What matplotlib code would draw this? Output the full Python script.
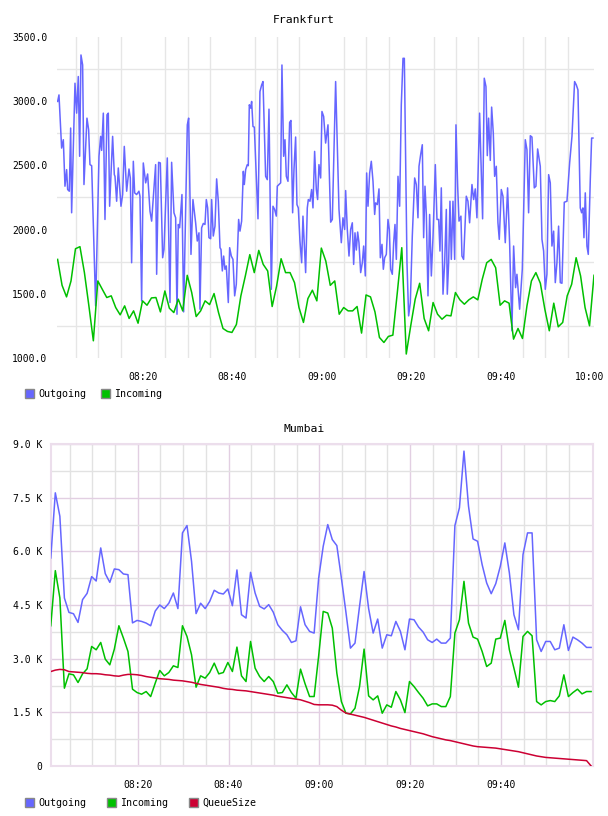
import matplotlib
matplotlib.use('Agg')
import matplotlib.pyplot as plt
import matplotlib.dates as mdates
from matplotlib.patches import Patch
from matplotlib.ticker import FixedLocator, FuncFormatter
import pandas as pd
import numpy as np

DAY = pd.Timestamp('2024-01-01 08:00:00')

# Frankfurt - outgoing (minutes after 08:00, value)
FRA_OUT_MIN = [0.91, 1.21, 1.80, 2.18, 2.55, 2.92, 3.15, 3.52, 3.82, 4.04, 4.79, 5.16, 5.53, 5.83, 6.13,
               6.50, 6.80, 7.47, 7.84, 8.14, 8.52, 9.41, 10.16, 10.53, 10.75, 11.13, 11.50, 11.95, 12.24,
               12.54, 13.21, 13.59, 13.74, 14.11, 14.48, 15.08, 15.45, 15.82, 16.35, 16.87, 17.17, 17.46,
               17.84, 18.14, 18.58, 19.10, 19.33, 19.70, 20.07, 20.60, 21.04, 21.57, 21.94, 22.83, 23.06,
               23.50, 23.88, 24.40, 24.70, 25.44, 26.04, 26.41, 26.93, 27.31, 27.61, 27.90, 28.20, 28.72,
               29.10, 29.92, 30.22, 30.74, 31.18, 31.78, 32.15, 32.53, 32.75, 33.12, 33.50, 33.87, 34.17,
               34.47, 34.76, 35.14, 35.36, 35.73, 36.11, 36.48, 36.85, 37.23, 37.45, 37.75, 38.05, 38.34,
               38.64, 39.09, 39.39, 39.76, 40.13, 40.51, 40.88, 41.40, 41.70, 42.07, 42.45, 42.67, 42.97,
               43.34, 43.56, 43.79, 44.09, 44.31, 44.61, 44.91, 45.20, 45.73, 46.17, 46.55, 46.85, 47.44,
               47.81, 48.19, 48.71, 49.08, 49.45, 49.83, 50.05, 50.42, 50.80, 51.09, 51.47, 51.77, 52.07,
               52.44, 52.81, 53.11, 53.48, 53.78, 54.15, 54.45, 54.75, 55.12, 55.50, 55.79, 56.39, 56.76,
               56.99, 57.36, 57.73, 58.03, 58.40, 58.78, 59.07, 59.37, 59.75, 60.04, 60.42, 60.86, 61.39,
               61.99, 62.36, 63.10, 63.85, 64.37, 64.74, 65.12, 65.34, 65.71, 66.09, 66.46, 66.83, 67.13,
               67.43, 67.73, 68.03, 68.32, 68.70, 69.07, 69.37, 69.74, 70.04, 70.34, 70.71, 71.08, 71.46,
               71.83, 72.05, 72.43, 72.80, 73.10, 73.47, 73.77, 74.07, 74.44, 74.81, 75.11, 75.41, 75.78,
               76.08, 76.38, 76.68, 77.05, 77.42, 77.79, 78.17, 78.47, 79.06, 79.43, 79.81, 80.25, 80.78,
               81.15, 81.52, 81.75, 82.12, 82.49, 82.79, 83.09, 83.39, 83.76, 84.13, 84.51, 84.88, 85.40,
               85.77, 86.15, 86.44, 86.74, 87.12, 87.49, 87.86, 88.08, 88.38, 88.68, 88.98, 89.35, 89.73,
               90.02, 90.40, 90.70, 91.13, 91.36, 91.73, 92.33, 92.70, 93.07, 93.60, 93.97, 94.34, 94.71,
               95.31, 95.98, 96.35, 96.73, 97.03, 97.32, 97.70, 98.00, 98.37, 98.67, 99.04, 99.41, 99.71,
               100.16, 100.53, 101.05, 101.57, 102.02, 102.54, 102.92, 103.36, 103.66, 104.26, 104.86,
               105.53, 105.90, 106.27, 106.65, 107.02, 107.54, 107.91, 108.29, 108.88, 109.26, 109.63,
               110.00, 110.37, 110.75, 111.12, 111.49, 111.87, 112.24, 112.61, 112.98, 113.36, 113.73,
               114.25, 114.85, 115.45, 115.97, 116.56, 116.94, 117.31, 117.83, 118.13, 118.43, 118.65,
               118.95, 119.32, 119.62, 120.07, 120.37, 120.66]
FRA_OUT = [2998, 3049, 2635, 2700, 2338, 2467, 2312, 2299, 2791, 2131, 3140, 2907, 3192, 2571, 3360,
           3282, 2351, 2868, 2778, 2506, 2498, 1406, 2571, 2726, 2617, 2907, 2079, 2894, 2907,
           2182, 2726, 2428, 2415, 2221, 2480, 2182, 2273, 2648, 2299, 2472, 2402, 1742,
           2532, 2286, 2273, 2299, 2260, 1445, 2519, 2364, 2433, 2144, 2066, 2506, 1652,
           2524, 2519, 1781, 1846, 2558, 1432, 2524, 2131, 2092, 1341, 2040, 2014, 2273,
           1359, 2816, 2868, 1807, 2234, 2053, 1911, 1975, 1380, 2014, 2048, 2040, 2234,
           2169, 1937, 1929, 2234, 1950, 2027, 2395, 2221, 1859, 1846, 1678, 1794, 1691,
           1717, 1432, 1859, 1794, 1768, 1484, 1574, 2079, 1988, 2066, 2454, 2351, 2467,
           2506, 2498, 2972, 2946, 2998, 2803, 2798, 2545, 2084, 3075, 3127, 3153, 2415,
           2389, 2938, 1535, 2182, 2157, 2105, 2338, 2351, 2364, 3282, 2571, 2700, 2415,
           2376, 2835, 2850, 2131, 2467, 2721, 2195, 2169, 1911, 1742, 2105, 1665, 2169,
           2234, 2221, 2312, 2169, 2609, 2312, 2234, 2506, 2402, 2920, 2881, 2674, 2816,
           2058, 2079, 3153, 2157, 1898, 2092, 2001, 2304, 2001, 1794, 2001, 2053, 1729,
           1975, 1841, 1981, 1898, 1665, 1742, 1872, 1639, 2441, 2182, 2441, 2532, 2376,
           2118, 2208, 2195, 2317, 1781, 1885, 1691, 1781, 1807, 2079, 2001, 1691, 1652,
           1898, 2040, 1768, 2415, 2182, 2972, 3334, 3334, 1742, 1328, 1432, 1949, 2402,
           2351, 2092, 2493, 2584, 2661, 1937, 2338, 2118, 1484, 2118, 1639, 1937, 2506,
           2079, 2079, 1833, 2325, 1497, 1742, 2157, 1497, 1742, 2221, 1768, 2221, 1768,
           2816, 2338, 2066, 2105, 1794, 1768, 2260, 2221, 2053, 2351, 2234, 2317, 2092,
           2907, 2084, 3179, 3114, 2576, 2868, 2539, 2954, 2752, 2415, 2493, 2053, 1924,
           2312, 2260, 1898, 2325, 1898, 1212, 1872, 1548, 1652, 1380, 1691,
           2700, 2622, 2131, 2731, 2721, 2325, 2338, 2628, 2493, 1924, 1833,
           1535, 1652, 2428, 2364, 1872, 1988, 1587, 1742, 2027, 1587, 1582,
           2213, 2221, 2519, 2726, 3153, 3127, 3088, 2169, 2131, 2169, 1937,
           2286, 1872, 1807, 2389, 2713, 2713]

# Frankfurt - incoming, one value per minute from 08:00:54
FRA_IN = [1768, 1566, 1476, 1600, 1851, 1867, 1665, 1406, 1134, 1600, 1535, 1471, 1484, 1393, 1336,
          1406, 1308, 1367, 1271, 1445, 1411, 1468, 1471, 1359, 1522, 1388, 1354, 1458, 1367, 1644,
          1510, 1323, 1367, 1445, 1416, 1502, 1354, 1230, 1207, 1199, 1261, 1484, 1639, 1805, 1665,
          1838, 1729, 1678, 1401, 1561, 1773, 1665, 1665, 1587, 1393, 1277, 1463, 1528, 1445, 1856,
          1755, 1566, 1600, 1341, 1393, 1367, 1367, 1401, 1194, 1491, 1476, 1359, 1160, 1121, 1168,
          1178, 1510, 1859, 1031, 1251, 1458, 1582, 1308, 1212, 1432, 1341, 1302, 1333, 1328, 1510,
          1453, 1419, 1453, 1476, 1453, 1613, 1742, 1768, 1703, 1411, 1445, 1427, 1147, 1230, 1152,
          1406, 1600, 1665, 1582, 1380, 1212, 1427, 1243, 1277, 1484, 1574, 1781, 1639, 1393, 1251,
          1644]

# Mumbai - one value per minute from 08:00:51
MUM_OUT = [5815, 7635, 6981, 4695, 4293, 4256, 4013, 4650, 4825, 5293, 5171, 6095, 5376, 5133, 5507,
           5488, 5367, 5348, 4000, 4069, 4041, 3995, 3920, 4330, 4500, 4400, 4550, 4835, 4400, 6515,
           6720, 5721, 4260, 4550, 4400, 4600, 4911, 4835, 4807, 4948, 4480, 5480, 4228, 4135, 5413,
           4835, 4462, 4390, 4510, 4300, 3948, 3790, 3668, 3453, 3500, 4450, 3950, 3762, 3715, 5255,
           6141, 6748, 6328, 6160, 5255, 4300, 3295, 3435, 4461, 5437, 4400, 3715, 4107, 3295, 3668,
           3640, 4041, 3762, 3248, 4107, 4088, 3883, 3743, 3528, 3453, 3547, 3435, 3435, 3575, 6720,
           7215, 8801, 7261, 6346, 6281, 5628, 5115, 4816, 5096, 5581, 6235, 5395, 4228, 3808, 5908,
           6515, 6515, 3528, 3201, 3481, 3481, 3248, 3295, 3948, 3229, 3603, 3528, 3435, 3314, 3314]
MUM_IN = [3920, 5460, 4700, 2175, 2576, 2548, 2333, 2576, 2716, 3341, 3248, 3453, 2987, 2828, 3267,
          3920, 3575, 3201, 2147, 2053, 2007, 2081, 1941, 2315, 2670, 2520, 2613, 2800, 2753, 3920,
          3621, 3108, 2203, 2520, 2455, 2613, 2875, 2576, 2613, 2893, 2641, 3323, 2520, 2361, 3481,
          2735, 2501, 2361, 2501, 2361, 2035, 2053, 2268, 2053, 1895, 2707, 2300, 1942, 1942, 3080,
          4321, 4275, 3855, 2595, 1801, 1475, 1456, 1615, 2221, 3267, 1960, 1848, 1960, 1475, 1708,
          1643, 2081, 1848, 1493, 2361, 2221, 2053, 1895, 1680, 1736, 1736, 1661, 1661, 1941, 3715,
          4088, 5161, 3995, 3603, 3547, 3201, 2781, 2875, 3547, 3575, 4069, 3248, 2735, 2203, 3621,
          3762, 3640, 1801, 1708, 1801, 1829, 1801, 1960, 2548, 1941, 2053, 2147, 2016, 2081, 2081]
MUM_QUEUE = [2640, 2680, 2700, 2690, 2640, 2630, 2620, 2610, 2590, 2580, 2580, 2570, 2550, 2540, 2520,
             2510, 2540, 2560, 2560, 2550, 2530, 2500, 2480, 2460, 2440, 2430, 2420, 2400, 2390, 2380,
             2360, 2340, 2310, 2280, 2260, 2240, 2220, 2200, 2170, 2150, 2140, 2120, 2110, 2100, 2080,
             2060, 2040, 2020, 2000, 1980, 1950, 1930, 1910, 1890, 1870, 1850, 1810, 1770, 1720, 1710,
             1710, 1710, 1700, 1660, 1560, 1480, 1450, 1420, 1390, 1360, 1320, 1280, 1240, 1200, 1160,
             1120, 1090, 1050, 1020, 990, 960, 930, 900, 860, 820, 790, 760, 730, 710, 680,
             650, 620, 590, 560, 540, 530, 520, 510, 500, 480, 460, 440, 420, 400, 370,
             340, 310, 280, 260, 240, 230, 220, 210, 200, 190, 180, 170, 160, 150, 0]

BLUE = '#6666ff'
GREEN = '#00c000'
RED = '#cc0033'
MONO = 'DejaVu Sans Mono'

fra_out_t = DAY + pd.to_timedelta(FRA_OUT_MIN, unit='m')
fra_in_t = pd.date_range(DAY + pd.Timedelta(seconds=54), periods=len(FRA_IN), freq='60s')
mum_t = pd.date_range(DAY + pd.Timedelta(seconds=51), periods=len(MUM_OUT), freq='60s')

W, H = 608, 816
fig = plt.figure(figsize=(W / 100, H / 100), dpi=100)


def box(l, t, r, b):
    return [l / W, 1 - b / H, (r - l) / W, (b - t) / H]


def tmins(lst):
    return [mdates.date2num(DAY + pd.Timedelta(minutes=m)) for m in lst]


# ---- Frankfurt ----
ax1 = fig.add_axes(box(57, 37, 594, 358))
ax1.plot(fra_out_t, FRA_OUT, color=BLUE, lw=1.1, zorder=3)
ax1.plot(fra_in_t, FRA_IN, color=GREEN, lw=1.1, zorder=3)
ax1.set_xlim(DAY + pd.Timedelta(seconds=46), DAY + pd.Timedelta(seconds=7254))
ax1.set_ylim(1000, 3500)
ax1.yaxis.set_major_locator(FixedLocator([1000, 1500, 2000, 2500, 3000, 3500]))
ax1.yaxis.set_minor_locator(FixedLocator([1250, 1750, 2250, 2750, 3250]))
ax1.yaxis.set_major_formatter(FuncFormatter(lambda v, p: '%.1f' % v))
ax1.xaxis.set_major_locator(FixedLocator(tmins([20, 40, 60, 80, 100, 120])))
ax1.xaxis.set_minor_locator(FixedLocator(tmins(range(5, 125, 5))))
ax1.xaxis.set_major_formatter(mdates.DateFormatter('%H:%M'))
ax1.grid(False)
ax1.grid(which='minor', color='#e6e6e6', lw=1)
for s in ax1.spines.values():
    s.set_visible(False)
ax1.tick_params(which='both', length=0)
ax1.tick_params(axis='y', pad=7, labelsize=7)
ax1.tick_params(axis='x', pad=10, labelsize=7)
for lab in ax1.get_xticklabels() + ax1.get_yticklabels():
    lab.set_family(MONO)
fig.text(304 / W, 1 - 20 / H, 'Frankfurt', ha='center', va='center', family=MONO, fontsize=8.2)
ax1.legend(handles=[Patch(facecolor=BLUE, edgecolor='#888888', label='Outgoing'),
                    Patch(facecolor=GREEN, edgecolor='#888888', label='Incoming')],
           loc='upper left', bbox_to_anchor=(20 / W, 1 - 384 / H), bbox_transform=fig.transFigure,
           ncol=2, frameon=False, prop={'family': MONO, 'size': 7.2},
           handlelength=0.9, handleheight=1.0, handletextpad=0.4, columnspacing=1.5, borderpad=0)

# ---- Mumbai ----
PURPLE = '#e2cfe2'
ax2 = fig.add_axes(box(50.7, 444, 593, 766))
ax2.plot(mum_t, MUM_OUT, color=BLUE, lw=1.1, zorder=3)
ax2.plot(mum_t, MUM_IN, color=GREEN, lw=1.1, zorder=3)
ax2.plot(mum_t, MUM_QUEUE, color=RED, lw=1.1, zorder=3)
ax2.set_xlim(DAY + pd.Timedelta(seconds=50), DAY + pd.Timedelta(seconds=7216))
ax2.set_ylim(0, 9000)
ax2.yaxis.set_major_locator(FixedLocator([0, 1500, 3000, 4500, 6000, 7500, 9000]))
ax2.yaxis.set_minor_locator(FixedLocator([750, 2250, 3750, 5250, 6750, 8250]))
ax2.yaxis.set_major_formatter(FuncFormatter(lambda v, p: '0' if v == 0 else '%.1f K' % (v / 1000)))
ax2.xaxis.set_major_locator(FixedLocator(tmins([20, 40, 60, 80, 100])))
ax2.xaxis.set_minor_locator(FixedLocator(tmins([m for m in range(5, 120, 5) if m % 20])))
ax2.xaxis.set_major_formatter(mdates.DateFormatter('%H:%M'))
ax2.grid(which='major', color=PURPLE, lw=1)
ax2.grid(which='minor', color='#e2e2e2', lw=1)
for s in ax2.spines.values():
    s.set_color('#ecdeec')
    s.set_linewidth(1.5)
ax2.tick_params(which='both', length=0)
ax2.tick_params(axis='y', pad=6, labelsize=7)
ax2.tick_params(axis='x', pad=10, labelsize=7)
for lab in ax2.get_xticklabels() + ax2.get_yticklabels():
    lab.set_family(MONO)
fig.text(304 / W, 1 - 429 / H, 'Mumbai', ha='center', va='center', family=MONO, fontsize=8.2)
ax2.legend(handles=[Patch(facecolor=BLUE, edgecolor='#888888', label='Outgoing'),
                    Patch(facecolor=GREEN, edgecolor='#888888', label='Incoming'),
                    Patch(facecolor=RED, edgecolor='#888888', label='QueueSize')],
           loc='upper left', bbox_to_anchor=(20 / W, 1 - 793 / H), bbox_transform=fig.transFigure,
           ncol=3, frameon=False, prop={'family': MONO, 'size': 7.2},
           handlelength=0.9, handleheight=1.0, handletextpad=0.4, columnspacing=2.1, borderpad=0)

fig.savefig('out.png', dpi=100)
